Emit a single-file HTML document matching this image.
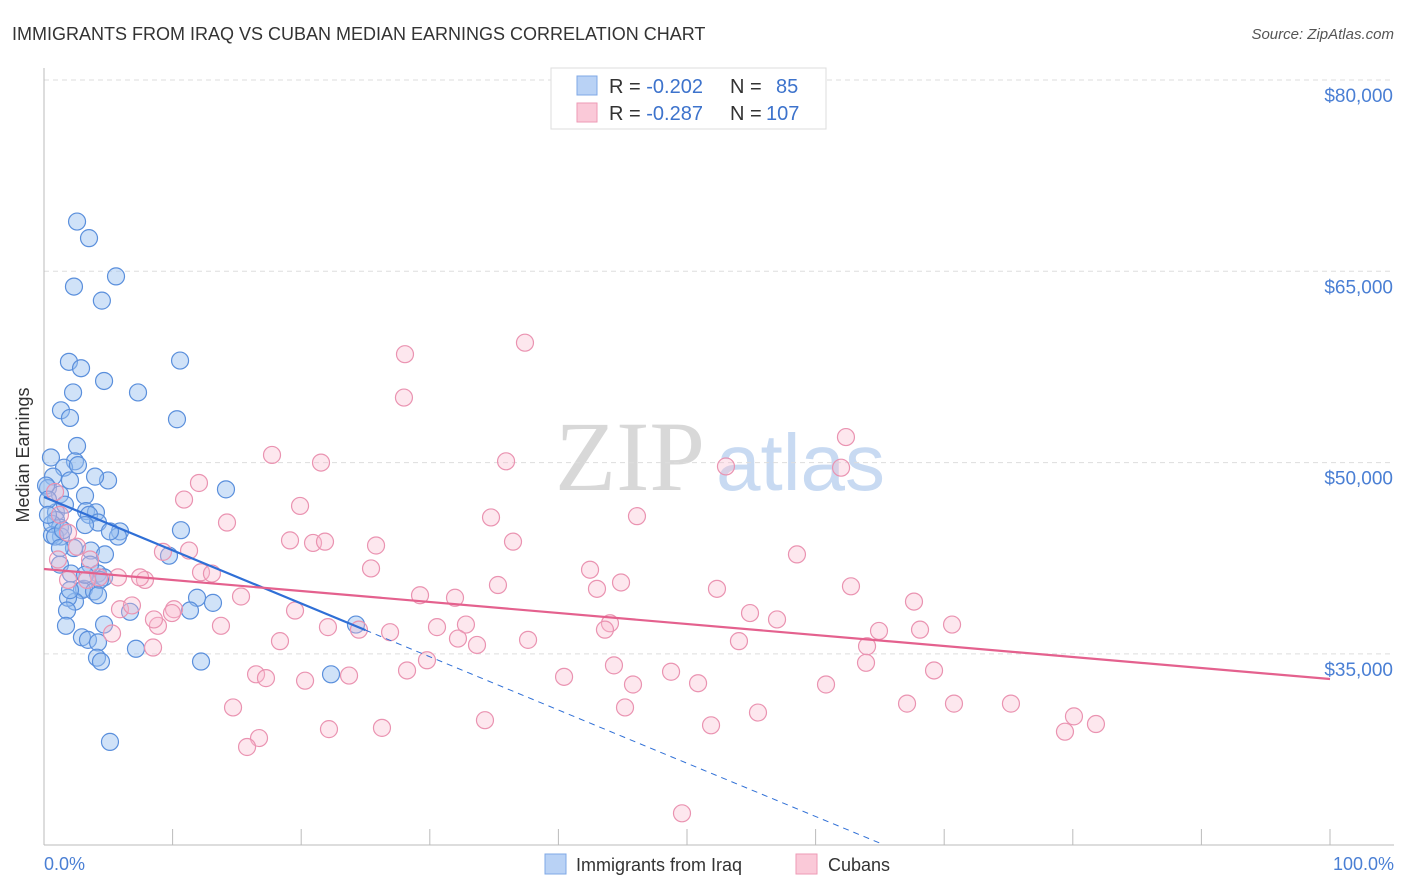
<!DOCTYPE html>
<html><head><meta charset="utf-8"><style>
body{margin:0;background:#fff;font-family:"Liberation Sans",sans-serif;}
svg{display:block}
</style></head><body>
<svg id="chart" width="1406" height="892" xmlns="http://www.w3.org/2000/svg">
<text x="12" y="40" font-size="18" fill="#333">IMMIGRANTS FROM IRAQ VS CUBAN MEDIAN EARNINGS CORRELATION CHART</text>
<text x="1394" y="39" font-size="15" fill="#555" text-anchor="end" font-style="italic">Source: ZipAtlas.com</text>
<g>
<text x="555" y="490" font-size="100" fill="#d8d8d8" font-family="Liberation Serif, serif">ZIP</text>
<text x="716" y="490" font-size="80" fill="#c8daf2">atlas</text>
</g>
<g id="grid"></g>
<line x1="44" y1="68" x2="44" y2="845" stroke="#bbb"/>
<line x1="44" y1="845" x2="1394" y2="845" stroke="#bbb"/>
<g id="xticks"></g>
<text x="29" y="455" font-size="18" fill="#333" text-anchor="middle" transform="rotate(-90 29 455)">Median Earnings</text>
<text x="44" y="870" font-size="18" fill="#4a7fd4">0.0%</text>
<text x="1394" y="870" font-size="18" fill="#4a7fd4" text-anchor="end">100.0%</text>
<g id="pts"></g>
<g id="lines"></g>
<g>
<rect x="551" y="68" width="275" height="61" fill="#fff" stroke="#ddd"/>
<rect x="577" y="76" width="20" height="19" fill="#b9d2f5" stroke="#7fa8e6"/>
<rect x="577" y="103" width="20" height="19" fill="#fac9d8" stroke="#ee9ab6"/>
<text x="609" y="93" font-size="20" fill="#333">R = <tspan fill="#3d73cc">-0.202</tspan><tspan x="730">N = </tspan><tspan x="776" fill="#3d73cc">85</tspan></text>
<text x="609" y="120" font-size="20" fill="#333">R = <tspan fill="#3d73cc"> -0.287</tspan><tspan x="730">N = </tspan><tspan x="766" fill="#3d73cc">107</tspan></text>
</g>
<g>
<rect x="545" y="854" width="21" height="20" fill="#b9d2f5" stroke="#7fa8e6"/>
<text x="576" y="871" font-size="18" fill="#333">Immigrants from Iraq</text>
<rect x="796" y="854" width="21" height="20" fill="#fac9d8" stroke="#ee9ab6"/>
<text x="828" y="871" font-size="18" fill="#333">Cubans</text>
</g>
</svg>
<script>
const yTicks=[35000,50000,65000,80000];
const yTickLabels=["$35,000","$50,000","$65,000","$80,000"];
const xTicks=[0,10,20,30,40,50,60,70,80,90,100];
const iraqX=[2.57,3.5,5.6,2.33,4.5,1.94,2.88,10.58,4.67,2.26,7.31,1.32,2.02,10.34,2.57,0.54,2.41,1.56,2.64,4.98,14.15,0.7,2.02,3.97,0.31,3.19,1.24,3.27,4.04,0.93,3.5,4.2,10.65,5.91,0.93,1.24,1.32,0.62,5.75,3.65,9.72,1.24,2.1,4.2,4.67,3.11,13.14,2.95,3.89,2.41,1.87,11.9,1.79,11.35,6.69,4.67,1.71,24.26,2.95,3.42,4.2,7.15,4.12,4.43,12.21,22.32,5.13,0.16,0.31,0.62,0.86,1.48,2.33,3.58,4.35,5.13,2.02,3.19,4.2,1.24,4.74,0.31,1.63,3.19];
const iraqY=[68.9,67.6,64.6,63.8,62.7,57.9,57.4,58.0,56.4,55.5,55.5,54.1,53.5,53.4,51.3,50.4,50.1,49.6,49.8,48.6,47.9,48.9,48.6,48.9,48.0,47.4,47.5,46.2,46.1,46.1,45.9,45.3,44.7,44.6,45.5,44.9,44.2,44.3,44.2,43.1,42.7,42.0,41.3,41.3,41.0,40.1,39.0,40.0,39.9,39.1,39.4,39.4,38.4,38.4,38.3,37.3,37.2,37.3,36.3,36.1,35.9,35.4,34.7,34.4,34.4,33.4,28.1,48.2,47.1,45.2,44.2,44.7,43.3,42.0,40.8,44.6,40.0,41.2,39.6,43.3,42.8,45.9,46.7,45.1];
const cubaX=[28.07,37.4,27.99,62.36,17.73,21.54,35.93,53.03,61.98,12.05,0.86,10.89,19.91,34.76,46.11,14.23,1.87,19.13,20.92,21.85,25.82,36.47,9.25,2.57,11.28,58.55,7.85,1.09,25.43,42.46,12.21,13.06,4.28,5.75,7.47,35.3,44.87,52.33,62.75,43.0,3.34,5.91,6.84,10.11,19.52,15.32,29.24,31.96,67.65,54.9,57.0,9.95,13.76,22.08,24.49,26.91,30.56,32.81,44.01,43.62,8.86,5.29,8.55,18.35,37.64,32.19,33.67,54.04,64.0,64.93,68.12,70.61,8.48,29.78,44.32,63.92,28.23,69.21,16.49,17.26,20.3,23.72,40.44,48.76,50.86,45.8,60.81,14.7,45.18,55.52,67.11,70.76,75.19,80.09,81.8,79.39,34.29,51.87,22.16,26.28,16.72,15.79,49.61,3.58,1.24,1.87];
const cubaY=[58.5,59.4,55.1,52.0,50.6,50.0,50.1,49.7,49.6,48.4,47.7,47.1,46.6,45.7,45.8,45.3,44.5,43.9,43.7,43.8,43.5,43.8,43.0,43.4,43.1,42.8,40.8,42.4,41.7,41.6,41.4,41.3,41.0,41.0,41.0,40.4,40.6,40.1,40.3,40.1,40.8,38.5,38.8,38.5,38.4,39.5,39.6,39.4,39.1,38.2,37.7,38.2,37.2,37.1,36.9,36.7,37.1,37.3,37.4,36.9,37.2,36.6,37.7,36.0,36.1,36.2,35.7,36.0,35.6,36.8,36.9,37.3,35.5,34.5,34.1,34.3,33.7,33.7,33.4,33.1,32.9,33.3,33.2,33.6,32.7,32.6,32.6,30.8,30.8,30.4,31.1,31.1,31.1,30.1,29.5,28.9,29.8,29.4,29.1,29.2,28.4,27.7,22.5,42.4,45.9,40.8];
const iraqTrend=[47300,-417.5];
const cubaTrend=[41656,33030];

const NS="http://www.w3.org/2000/svg";
const X=p=>44+p*12.86;
const Y=v=>80+(80000-v)*0.012753;
function mk(tag,attrs,parent){const e=document.createElementNS(NS,tag);for(const k in attrs)e.setAttribute(k,attrs[k]);parent.appendChild(e);return e;}
const grid=document.getElementById('grid');
yTicks.forEach((v,i)=>{
  const l=mk('line',{x1:44,x2:1394,y1:Y(v),y2:Y(v),stroke:'#ddd','stroke-dasharray':'5,4'},grid);
  
  
  const t=mk('text',{x:1393,y:Y(v)+22,'font-size':19,fill:'#4a7fd4','text-anchor':'end'},grid);
  t.textContent=yTickLabels[i];
  
  
});
const xt=document.getElementById('xticks');
xTicks.forEach(p=>{
  const l=mk('line',{x1:X(p),x2:X(p),y1:829,y2:845,stroke:'#bbb'},xt);
  
  
});
const pts=document.getElementById('pts');
iraqX.forEach((p,i)=>{
  const c=mk('circle',{cx:X(p),cy:Y(iraqY[i]*1000),r:8.5,fill:'rgba(150,190,240,0.45)',stroke:'#5a8fdc','stroke-width':1.2},pts);
  
  
});
cubaX.forEach((p,i)=>{
  const c=mk('circle',{cx:X(p),cy:Y(cubaY[i]*1000),r:8.5,fill:'rgba(248,185,205,0.35)',stroke:'#ea93b1','stroke-width':1.2},pts);
  
  
});
const ln=document.getElementById('lines');
const iv=p=>iraqTrend[0]+iraqTrend[1]*p;
const l1=mk('line',{x1:X(0),y1:Y(iv(0)),x2:X(25),y2:Y(iv(25)),stroke:'#2f6fd6','stroke-width':2.2},ln);


const l2=mk('line',{x1:X(25),y1:Y(iv(25)),x2:X(65),y2:Y(iv(65)),stroke:'#2f6fd6','stroke-width':1,'stroke-dasharray':'6,5'},ln);


const l3=mk('line',{x1:X(0),y1:Y(cubaTrend[0]),x2:X(100),y2:Y(cubaTrend[1]),stroke:'#e4618e','stroke-width':2.2},ln);


</script>
</body></html>
